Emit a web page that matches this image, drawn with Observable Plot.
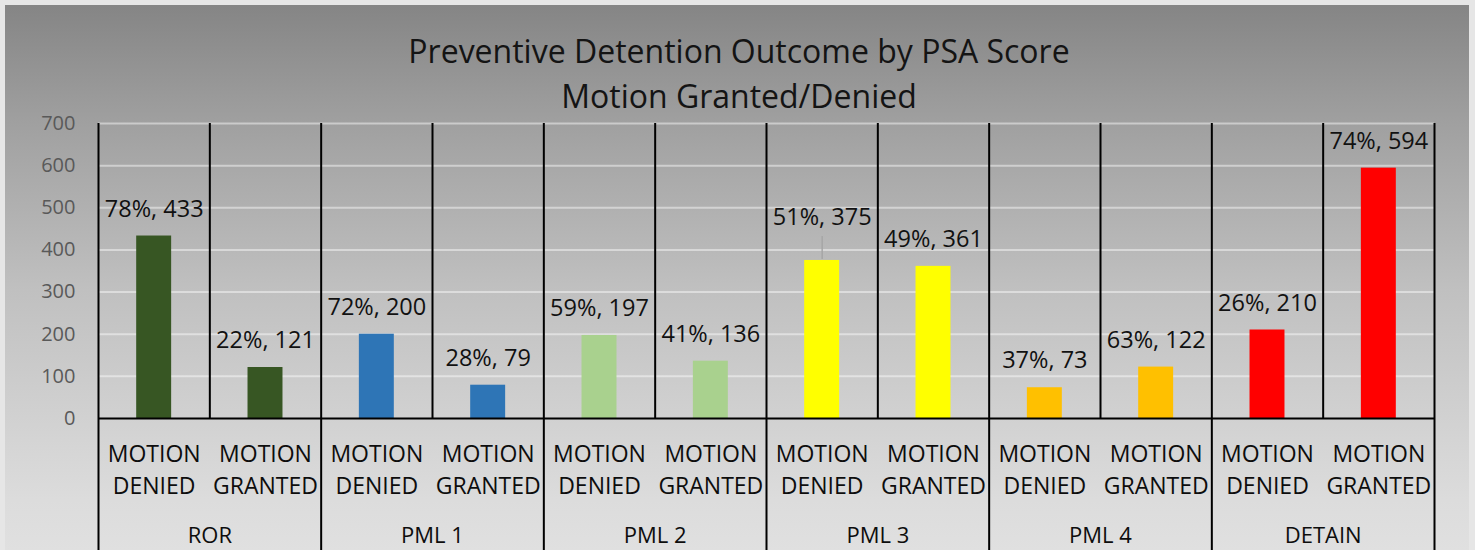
<!DOCTYPE html>
<html>
<head>
<meta charset="utf-8">
<script src="https://cdn.jsdelivr.net/npm/d3@7"></script>
<script src="https://cdn.jsdelivr.net/npm/@observablehq/plot@0.6"></script>
<style>
  html, body { margin: 0; padding: 0; background: #e6e6e6; }
  #chart {
    position: absolute; left: 5px; top: 5px; width: 1464px; height: 545px;
    background: linear-gradient(to bottom, #858585 0%, #a0a0a0 21.7%, #c0c0c0 52.3%, #dcdcdc 90.8%, #e0e0e0 100%);
    font-family: "Open Sans", "Noto Sans", sans-serif;
    overflow: hidden;
  }
  #title {
    height: 112px; box-sizing: border-box; padding-top: 23px;
    text-align: center; font-size: 32px; line-height: 45px; color: #141414;
    padding-left: 4px;
  }
</style>
</head>
<body>
<div id="chart">
  <div id="title">Preventive Detention Outcome by PSA Score<br>Motion Granted/Denied</div>
</div>
<script>
const groups = ["ROR", "PML 1", "PML 2", "PML 3", "PML 4", "DETAIN"];
const outcomes = ["MOTION DENIED", "MOTION GRANTED"];
const counts = [433, 121, 200, 79, 197, 136, 375, 361, 73, 122, 210, 594];
const percents = [78, 22, 72, 28, 59, 41, 51, 49, 37, 63, 26, 74];
const groupColors = ["#375623", "#2E75B6", "#A9D18E", "#FFFF00", "#FFC000", "#FF0000"];
const yTicks = [0, 100, 200, 300, 400, 500, 600, 700];
const leaderBars = ["PML 3|MOTION DENIED"];

const rows = [];
groups.forEach((g, gi) => outcomes.forEach((o, oi) => {
  const i = gi * outcomes.length + oi;
  rows.push({i, group: g, outcome: o, value: counts[i], pct: percents[i], color: groupColors[gi],
    leader: leaderBars.includes(g + "|" + o)});
}));
const n = rows.length;
const half = 0.157; // half bar width as fraction of a category slot
const boundaries = d3.range(n + 1);
const groupBounds = boundaries.filter(b => b % outcomes.length === 0);
const subBounds = boundaries.filter(b => b % outcomes.length !== 0);

const plot = Plot.plot({
  width: 1464,
  height: 433,
  marginLeft: 93,
  marginRight: 35,
  marginTop: 6,
  marginBottom: 132,
  style: {background: "transparent", fontFamily: "'Open Sans', 'Noto Sans', sans-serif", overflow: "visible"},
  x: {domain: [0, n], axis: null},
  y: {domain: [0, 700], axis: null},
  color: {type: "identity"},
  marks: [
    Plot.ruleY(yTicks.filter(t => t > 0), {x1: 0, x2: n, stroke: "white", strokeOpacity: 0.45, strokeWidth: 2}),
    Plot.axisY({ticks: yTicks, tickSize: 0, tickPadding: 23, fontSize: 20, color: "#595959", label: null, tickFormat: d => String(d)}),
    Plot.rectY(rows, {x1: d => d.i + 0.5 - half, x2: d => d.i + 0.5 + half, y1: 0, y2: "value", fill: "color"}),
    Plot.ruleX(rows.filter(d => d.leader), {x: d => d.i + 0.5, y1: "value", y2: "value", insetTop: -24, insetBottom: 1, stroke: "#a6a6a6", strokeWidth: 1.5}),
    Plot.ruleX(subBounds, {x: d => d, y1: 700, y2: 0, stroke: "black", strokeWidth: 2}),
    Plot.ruleX(groupBounds, {x: d => d, y1: 700, y2: 0, insetBottom: -140, stroke: "black", strokeWidth: 2}),
    Plot.ruleY([0], {x1: 0, x2: n, stroke: "black", strokeWidth: 2}),
    Plot.text(rows.filter(d => !d.leader), {x: d => d.i + 0.5, y: "value", text: d => `${d.pct}%, ${d.value}`, dy: -27, fontSize: 23.5, fill: "#111"}),
    Plot.text(rows.filter(d => d.leader), {x: d => d.i + 0.5, y: "value", text: d => `${d.pct}%, ${d.value}`, dy: -43, fontSize: 23.5, fill: "#111"}),
    Plot.text(rows, {x: d => d.i + 0.5, y: 0, text: d => d.outcome.replace(" ", "\n"), dy: 49, lineHeight: 1.43, fontSize: 23, fill: "#0d0d0d"}),
    Plot.text(groups, {x: (d, i) => i * outcomes.length + outcomes.length / 2, y: 0, text: d => d, dy: 117, fontSize: 22, fill: "#0d0d0d"})
  ]
});
document.getElementById("chart").appendChild(plot);
</script>
</body>
</html>
